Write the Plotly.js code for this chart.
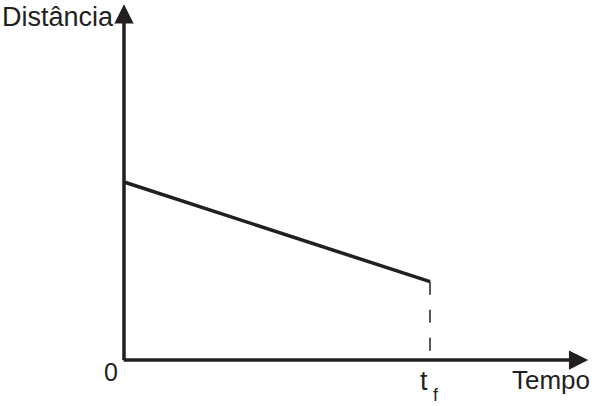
<!DOCTYPE html>
<html>
<head>
<meta charset="utf-8">
<script src="https://cdn.plot.ly/plotly-3.0.1.min.js"></script>
<style>
  html, body { margin: 0; padding: 0; background: #fff; }
  #chart { width: 592px; height: 406px; }
</style>
</head>
<body>
<div id="chart"></div>
<script>
    // --- DATA ---
    const tempo = [0, 1];            // 0 .. t_f
    const distancia = [1, 0.44];     // distance falls linearly until t_f
    const tf = 1;
    const dashX = [tf, tf];
    const dashY = [0.44, 0];

    // --- STYLE ---
    const ink = '#231f20';
    const fontFam = '"Liberation Sans", Arial, sans-serif';

    const traces = [
        {
            x: tempo, y: distancia,
            mode: 'lines', type: 'scatter',
            line: { color: ink, width: 3.5 },
            hoverinfo: 'skip'
        },
        {
            x: dashX, y: dashY,
            mode: 'lines', type: 'scatter',
            line: { color: ink, width: 1.5, dash: '13px,15px' },
            hoverinfo: 'skip'
        }
    ];

    // axis arrows (drawn as annotation arrows) + labels
    function axisArrow(x, y, ax, ay) {
        return {
            x: x, y: y, ax: ax, ay: ay,
            xref: 'x', yref: 'y', axref: 'x', ayref: 'y',
            text: '', showarrow: true,
            arrowhead: 2, arrowsize: 1.1, arrowwidth: 3.5,
            arrowcolor: ink, standoff: 0, startstandoff: 0
        };
    }

    function label(text, x, y, size, xanchor) {
        return {
            x: x, y: y, xref: 'x', yref: 'y',
            text: text, showarrow: false,
            xanchor: xanchor || 'center', yanchor: 'middle',
            font: { family: fontFam, size: size, color: ink }
        };
    }

    const layout = {
        width: 592, height: 406,
        margin: { l: 0, r: 0, t: 0, b: 0 },
        paper_bgcolor: '#fff', plot_bgcolor: '#fff',
        showlegend: false,
        xaxis: { range: [-0.4052, 1.5294], visible: false, fixedrange: true },
        yaxis: { range: [-0.2584, 2.0225], visible: false, fixedrange: true },
        annotations: [
            axisArrow(1.517, 0, -0.0057, 0),
            axisArrow(0, 1.998, 0, -0.0098),
            label('Distância', -0.4052, 1.927, 27, 'left'),
            label('0', -0.0441, -0.07, 25),
            label('t', 0.9788, -0.12, 27),
            label('f', 1.018, -0.195, 18),
            label('Tempo', 1.528, -0.115, 26, 'right')
        ]
    };

    Plotly.newPlot('chart', traces, layout, { displayModeBar: false, staticPlot: true });
</script>
</body>
</html>
